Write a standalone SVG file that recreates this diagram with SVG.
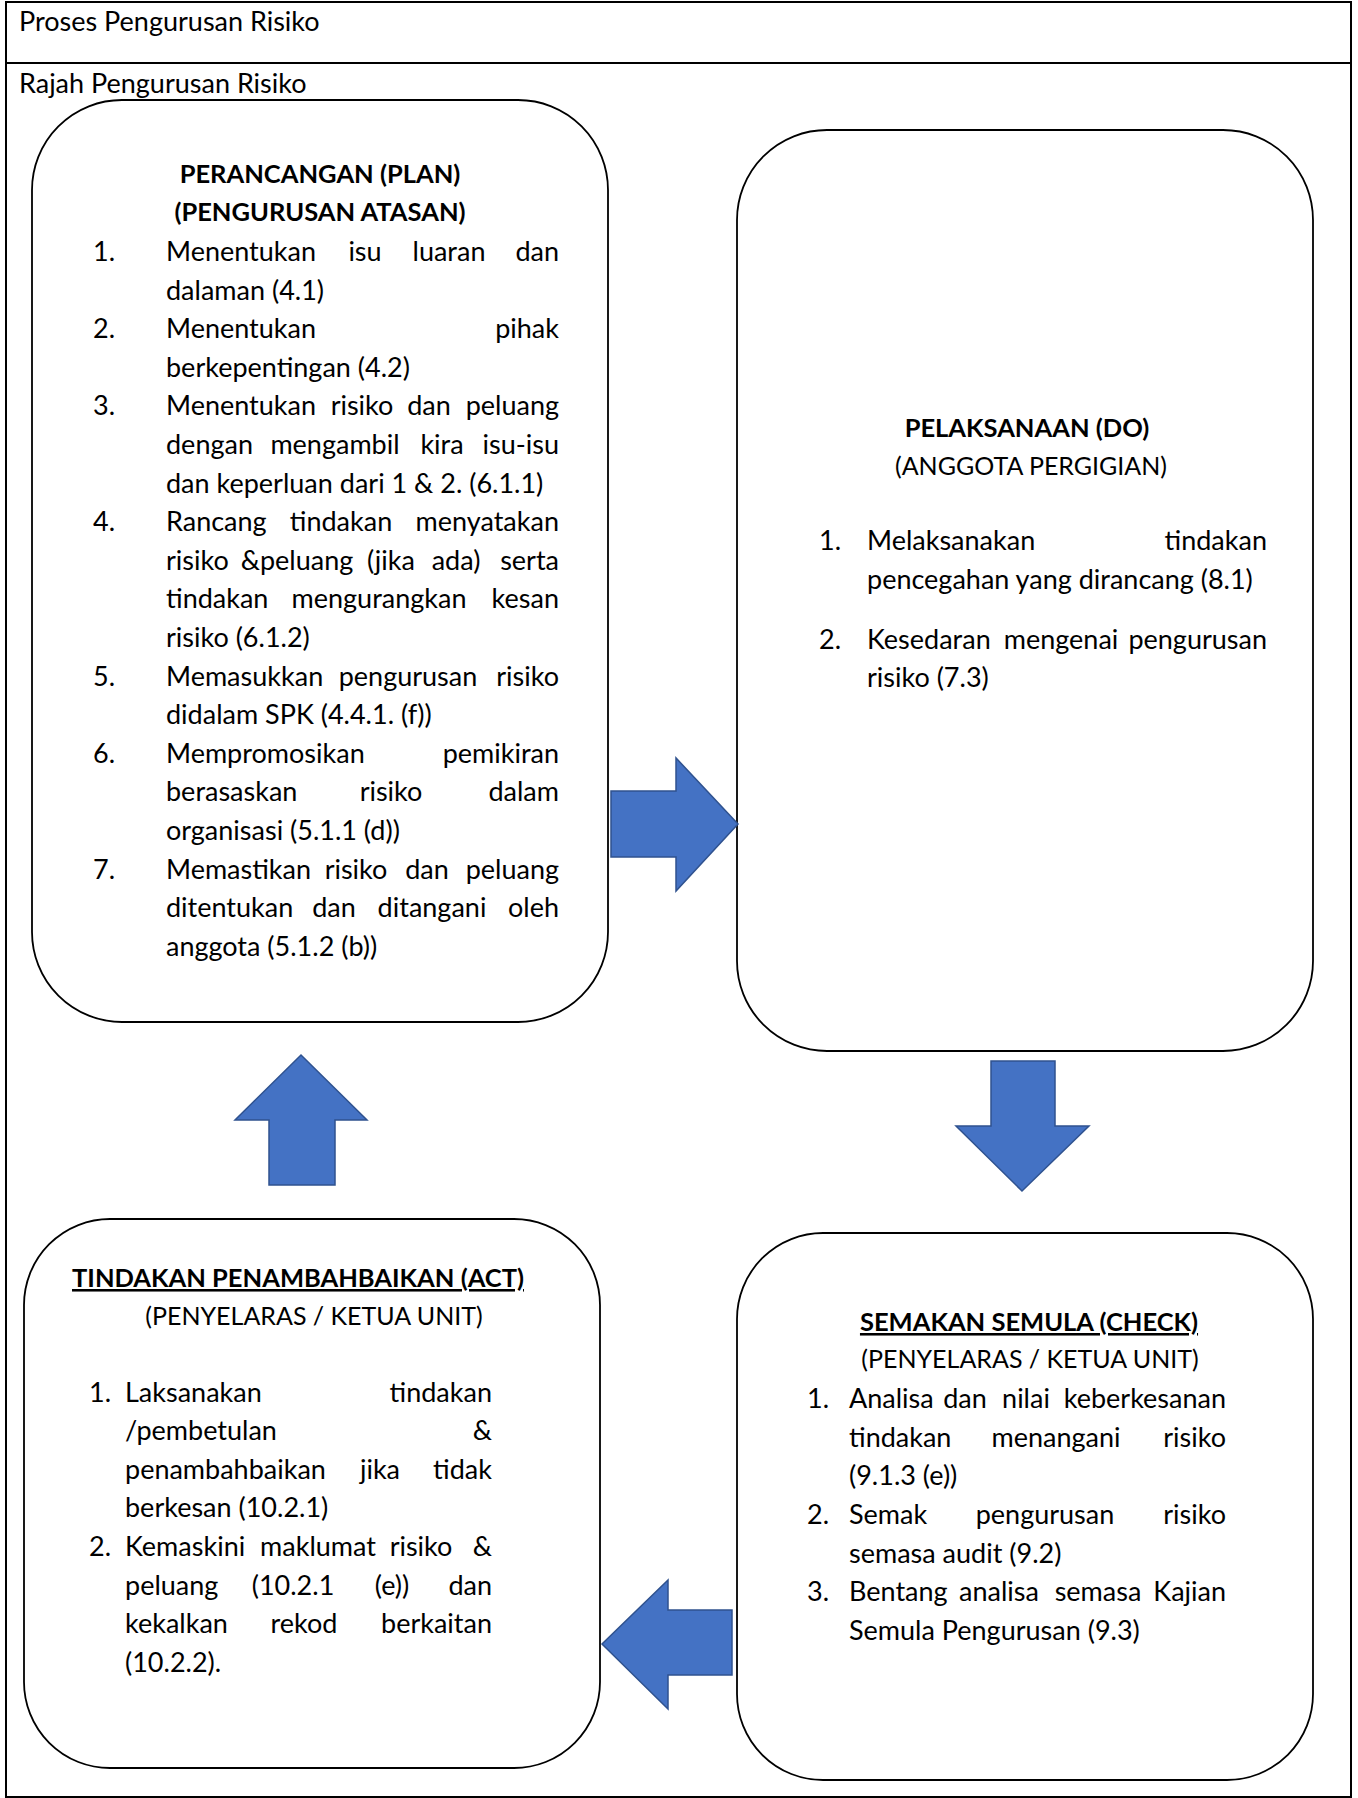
<svg xmlns="http://www.w3.org/2000/svg" width="1358" height="1798" viewBox="0 0 1358 1798">
<style>
.t{font-family:Lato,'Liberation Sans',sans-serif;font-size:27px;fill:#000}
.c{font-size:25px}
.b{font-weight:bold;font-size:25.5px}
.u{text-decoration:underline}
.m{text-anchor:middle}
.e{text-anchor:end}
.box{fill:#fff;stroke:#000;stroke-width:1.8}
.frame{fill:none;stroke:#000;stroke-width:2}
.arrow{fill:#4472C4;stroke:#2F528F;stroke-width:1.5;stroke-linejoin:miter}
</style>
<rect width="1358" height="1798" fill="#fff"/>
<g id="frame">
<rect class="frame" x="6" y="2" width="1345" height="1795"/>
<line class="frame" x1="6" y1="63" x2="1351" y2="63"/>
<text class="t" x="19" y="31">Proses Pengurusan Risiko</text>
<text class="t" x="19" y="93">Rajah Pengurusan Risiko</text>
</g>
<g id="plan">
<rect class="box" x="32" y="100" width="576" height="922" rx="90" ry="90"/>
<text class="t b m" x="320" y="183">PERANCANGAN (PLAN)</text>
<text class="t b m" x="320" y="221">(PENGURUSAN ATASAN)</text>
<text class="t" x="93" y="261">1.</text>
<text class="t" x="166" y="261">Menentukan</text><text class="t m" x="365" y="261">isu</text><text class="t m" x="449" y="261">luaran</text><text class="t e" x="559" y="261">dan</text>
<text class="t" x="166" y="299.6">dalaman (4.1)</text>
<text class="t" x="93" y="338.2">2.</text>
<text class="t" x="166" y="338.2">Menentukan</text><text class="t e" x="559" y="338.2">pihak</text>
<text class="t" x="166" y="376.8">berkepentingan (4.2)</text>
<text class="t" x="93" y="415.4">3.</text>
<text class="t" x="166" y="415.4">Menentukan</text><text class="t m" x="362" y="415.4">risiko</text><text class="t m" x="429" y="415.4">dan</text><text class="t e" x="559" y="415.4">peluang</text>
<text class="t" x="166" y="454">dengan</text><text class="t m" x="335" y="454">mengambil</text><text class="t m" x="442" y="454">kira</text><text class="t e" x="559" y="454">isu-isu</text>
<text class="t" x="166" y="492.6">dan keperluan dari 1 &amp; 2. (6.1.1)</text>
<text class="t" x="93" y="531.2">4.</text>
<text class="t" x="166" y="531.2">Rancang</text><text class="t m" x="341" y="531.2">tindakan</text><text class="t e" x="559" y="531.2">menyatakan</text>
<text class="t" x="166" y="569.8">risiko</text><text class="t m" x="297" y="569.8">&amp;peluang</text><text class="t m" x="391" y="569.8">(jika</text><text class="t m" x="456" y="569.8">ada)</text><text class="t e" x="559" y="569.8">serta</text>
<text class="t" x="166" y="608.4">tindakan</text><text class="t m" x="379" y="608.4">mengurangkan</text><text class="t e" x="559" y="608.4">kesan</text>
<text class="t" x="166" y="647">risiko (6.1.2)</text>
<text class="t" x="93" y="685.6">5.</text>
<text class="t" x="166" y="685.6">Memasukkan</text><text class="t m" x="408" y="685.6">pengurusan</text><text class="t e" x="559" y="685.6">risiko</text>
<text class="t" x="166" y="724.2">didalam SPK (4.4.1. (f))</text>
<text class="t" x="93" y="762.8">6.</text>
<text class="t" x="166" y="762.8">Mempromosikan</text><text class="t e" x="559" y="762.8">pemikiran</text>
<text class="t" x="166" y="801.4">berasaskan</text><text class="t m" x="391" y="801.4">risiko</text><text class="t e" x="559" y="801.4">dalam</text>
<text class="t" x="166" y="840">organisasi (5.1.1 (d))</text>
<text class="t" x="93" y="878.6">7.</text>
<text class="t" x="166" y="878.6">Memastikan</text><text class="t m" x="356" y="878.6">risiko</text><text class="t m" x="427" y="878.6">dan</text><text class="t e" x="559" y="878.6">peluang</text>
<text class="t" x="166" y="917.2">ditentukan</text><text class="t m" x="334" y="917.2">dan</text><text class="t m" x="432" y="917.2">ditangani</text><text class="t e" x="559" y="917.2">oleh</text>
<text class="t" x="166" y="955.8">anggota (5.1.2 (b))</text>
</g>
<g id="do">
<rect class="box" x="737" y="130" width="576" height="921" rx="90" ry="90"/>
<text class="t b m" x="1027" y="437">PELAKSANAAN (DO)</text>
<text class="t c m" x="1031" y="475">(ANGGOTA PERGIGIAN)</text>
<text class="t" x="819" y="550">1.</text>
<text class="t" x="867" y="550">Melaksanakan</text><text class="t e" x="1267" y="550">tindakan</text>
<text class="t" x="867" y="589">pencegahan yang dirancang (8.1)</text>
<text class="t" x="819" y="649">2.</text>
<text class="t" x="867" y="649">Kesedaran</text><text class="t m" x="1061" y="649">mengenai</text><text class="t e" x="1267" y="649">pengurusan</text>
<text class="t" x="867" y="687">risiko (7.3)</text>
</g>
<g id="check">
<rect class="box" x="737" y="1233" width="576" height="547" rx="86" ry="86"/>
<text class="t b u m" x="1029" y="1331">SEMAKAN SEMULA (CHECK)</text>
<text class="t c m" x="1030" y="1368">(PENYELARAS / KETUA UNIT)</text>
<text class="t" x="807" y="1408">1.</text>
<text class="t" x="849" y="1408">Analisa</text><text class="t m" x="965" y="1408">dan</text><text class="t m" x="1026" y="1408">nilai</text><text class="t e" x="1226" y="1408">keberkesanan</text>
<text class="t" x="849" y="1447">tindakan</text><text class="t m" x="1056" y="1447">menangani</text><text class="t e" x="1226" y="1447">risiko</text>
<text class="t" x="849" y="1485">(9.1.3 (e))</text>
<text class="t" x="807" y="1524">2.</text>
<text class="t" x="849" y="1524">Semak</text><text class="t m" x="1045" y="1524">pengurusan</text><text class="t e" x="1226" y="1524">risiko</text>
<text class="t" x="849" y="1563">semasa audit (9.2)</text>
<text class="t" x="807" y="1601">3.</text>
<text class="t" x="849" y="1601">Bentang</text><text class="t m" x="999" y="1601">analisa</text><text class="t m" x="1098" y="1601">semasa</text><text class="t e" x="1226" y="1601">Kajian</text>
<text class="t" x="849" y="1640">Semula Pengurusan (9.3)</text>
</g>
<g id="act">
<rect class="box" x="24" y="1219" width="576" height="549" rx="86" ry="86"/>
<text class="t b u m" x="298" y="1287">TINDAKAN PENAMBAHBAIKAN (ACT)</text>
<text class="t c m" x="314" y="1325">(PENYELARAS / KETUA UNIT)</text>
<text class="t" x="89" y="1402">1.</text>
<text class="t" x="125" y="1402">Laksanakan</text><text class="t e" x="492" y="1402">tindakan</text>
<text class="t" x="125" y="1440">/pembetulan</text><text class="t e" x="492" y="1440">&amp;</text>
<text class="t" x="125" y="1479">penambahbaikan</text><text class="t m" x="380" y="1479">jika</text><text class="t e" x="492" y="1479">tidak</text>
<text class="t" x="125" y="1517">berkesan (10.2.1)</text>
<text class="t" x="89" y="1556">2.</text>
<text class="t" x="125" y="1556">Kemaskini</text><text class="t m" x="318" y="1556">maklumat</text><text class="t m" x="421" y="1556">risiko</text><text class="t e" x="492" y="1556">&amp;</text>
<text class="t" x="125" y="1595">peluang</text><text class="t m" x="293" y="1595">(10.2.1</text><text class="t m" x="392" y="1595">(e))</text><text class="t e" x="492" y="1595">dan</text>
<text class="t" x="125" y="1633">kekalkan</text><text class="t m" x="304" y="1633">rekod</text><text class="t e" x="492" y="1633">berkaitan</text>
<text class="t" x="125" y="1672">(10.2.2).</text>
</g>
<g id="connectors">
<polygon class="arrow" points="611,791 676,791 676,758 738,824 676,891 676,857 611,857"/>
<polygon class="arrow" points="991,1061 1055,1061 1055,1126 1089,1126 1022,1191 956,1126 991,1126"/>
<polygon class="arrow" points="732,1610 732,1675 668,1675 668,1709 602,1644 668,1580 668,1610"/>
<polygon class="arrow" points="269,1185 269,1120 235,1120 301,1055 367,1120 335,1120 335,1185"/>
</g>
</svg>
